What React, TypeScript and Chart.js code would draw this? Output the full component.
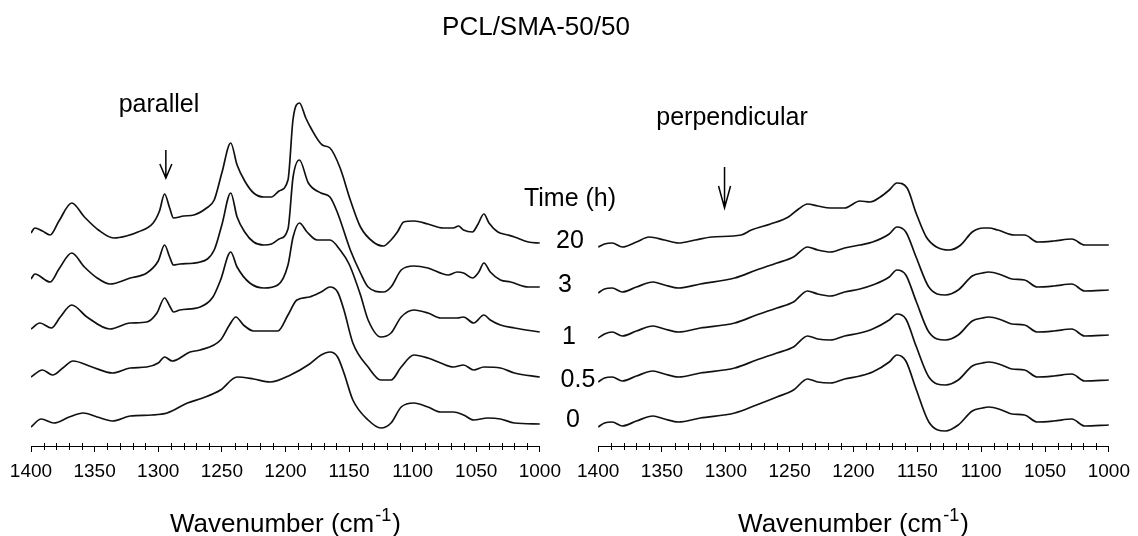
import React, { useEffect, useRef } from "react";
import { Chart, registerables } from "chart.js";

Chart.register(...registerables);

const FONT = '"Liberation Sans", Arial, Helvetica, sans-serif';
type Pt = [number, number]; // [wavenumber (cm-1), relative absorbance (a.u.)]

const xMin = 1000;
const xMax = 1400;
const minorStep = 10;
const majorStep = 50;

const timeLabels = ["20", "3", "1", "0.5", "0"];
const parallelOffsets = [203, 159, 114, 69, 22];
const perpOffsets = [201, 156, 111, 66, 21];

// ---- parallel polarisation ----
const par20: Pt[] = [
  [1400, 10], [1397, 15], [1391, 12], [1385, 8], [1378, 22], [1368, 40], [1358, 26], [1347, 13],
  [1335, 5], [1325, 7], [1316, 11], [1304, 20], [1299, 32], [1295, 49], [1291, 35], [1288, 25],
  [1280, 27], [1272, 28], [1262, 35], [1256, 43], [1250, 70], [1243, 100], [1238, 78], [1232, 62],
  [1225, 50], [1217, 46], [1211, 46], [1205, 52], [1198, 63], [1194, 124], [1189, 140], [1184, 125],
  [1180, 115], [1171, 98], [1165, 95], [1157, 75], [1149, 43], [1141, 16], [1131, 1], [1123, -3],
  [1117, 3], [1112, 11], [1107, 21], [1099, 22], [1088, 19], [1076, 15], [1068, 15], [1064, 17],
  [1060, 13], [1053, 11], [1049, 18], [1044, 29], [1040, 20], [1033, 11], [1025, 8], [1020, 6],
  [1009, 1], [1000, 0],
];
const par3: Pt[] = [
  [1400, 8], [1397, 13], [1385, 5], [1378, 18], [1368, 34], [1358, 20], [1348, 9], [1338, 3],
  [1322, 9], [1309, 14], [1300, 26], [1295, 42], [1291, 30], [1288, 22], [1283, 23], [1267, 25],
  [1256, 37], [1250, 62], [1243, 94], [1238, 70], [1232, 55], [1225, 45], [1217, 42], [1211, 43],
  [1205, 48], [1198, 58], [1194, 110], [1189, 127], [1182, 104], [1172, 94], [1165, 90], [1159, 74],
  [1149, 37], [1141, 14], [1135, 0], [1123, -5], [1117, 0], [1109, 17], [1099, 21], [1088, 19],
  [1072, 12], [1065, 15], [1060, 14], [1053, 9], [1048, 15], [1044, 24], [1039, 15], [1031, 7],
  [1023, 5], [1009, 0], [1000, 0],
];
const par1: Pt[] = [
  [1400, 3], [1393, 9], [1384, 4], [1377, 15], [1368, 27], [1356, 15], [1338, 3], [1322, 9],
  [1309, 10], [1301, 19], [1295, 34], [1291, 26], [1288, 20], [1283, 22], [1267, 25], [1257, 35],
  [1251, 52], [1243, 80], [1238, 65], [1228, 49], [1217, 44], [1206, 47], [1198, 67], [1194, 95],
  [1189, 109], [1183, 100], [1175, 92], [1165, 92], [1157, 82], [1150, 68], [1141, 37], [1135, 12],
  [1125, -5], [1117, -1], [1109, 15], [1099, 22], [1088, 19], [1078, 14], [1065, 14], [1060, 15],
  [1052, 9], [1044, 17], [1039, 12], [1031, 7], [1020, 4], [1000, 0],
];
const par05: Pt[] = [
  [1400, 0], [1391, 7], [1383, 2], [1375, 9], [1367, 16], [1352, 10], [1336, 4], [1322, 9],
  [1309, 10], [1300, 14], [1295, 20], [1289, 16], [1275, 25], [1267, 27], [1251, 37], [1244, 52],
  [1239, 60], [1233, 52], [1225, 46], [1206, 46], [1198, 62], [1191, 77], [1181, 80], [1172, 85],
  [1165, 90], [1159, 85], [1154, 67], [1147, 34], [1135, 10], [1125, -3], [1117, -3], [1109, 10],
  [1099, 22], [1088, 19], [1078, 14], [1068, 10], [1060, 12], [1052, 7], [1044, 10], [1031, 9],
  [1020, 4], [1000, 0],
];
const par0: Pt[] = [
  [1400, -3], [1392, 5], [1382, 1], [1370, 7], [1359, 11], [1348, 7], [1336, 3], [1322, 8],
  [1305, 9], [1293, 11], [1277, 21], [1265, 26], [1251, 34], [1238, 47], [1225, 45], [1212, 42],
  [1196, 49], [1181, 60], [1172, 69], [1165, 72], [1159, 67], [1154, 51], [1147, 24], [1135, 4],
  [1125, -4], [1117, 1], [1109, 17], [1099, 21], [1088, 17], [1078, 12], [1068, 12], [1060, 9],
  [1052, 4], [1041, 6], [1031, 5], [1020, 1], [1000, 0],
];

// ---- perpendicular polarisation ----
const perp20: Pt[] = [
  [1400, -2], [1395, 1], [1389, 2], [1381, -2], [1370, 3], [1360, 8], [1348, 5], [1337, 2],
  [1324, 5], [1311, 8], [1288, 10], [1280, 15], [1265, 21], [1251, 28], [1243, 36], [1236, 41],
  [1228, 39], [1218, 37], [1207, 37], [1195, 44], [1187, 43], [1179, 48], [1172, 55], [1166, 62],
  [1158, 57], [1151, 32], [1143, 8], [1135, -2], [1125, -5], [1116, 0], [1107, 13], [1098, 17],
  [1094, 17], [1087, 15], [1074, 10], [1066, 10], [1056, 3], [1043, 4], [1029, 6], [1019, 0],
  [1000, 0],
];
const perp3: Pt[] = [
  [1400, -3], [1395, 1], [1389, 2], [1381, -2], [1370, 3], [1357, 8], [1348, 5], [1337, 2],
  [1320, 6], [1293, 12], [1276, 20], [1260, 27], [1247, 33], [1236, 43], [1228, 40], [1218, 38],
  [1207, 42], [1195, 45], [1185, 48], [1172, 56], [1166, 63], [1159, 58], [1151, 33], [1141, 3],
  [1128, -5], [1118, 0], [1107, 14], [1099, 17], [1094, 18], [1084, 15], [1076, 11], [1066, 10],
  [1056, 3], [1043, 4], [1029, 6], [1019, -1], [1000, 0],
];
const perp1: Pt[] = [
  [1400, -3], [1395, 1], [1389, 3], [1381, -1], [1370, 4], [1357, 9], [1348, 6], [1337, 3],
  [1320, 7], [1293, 12], [1276, 20], [1260, 27], [1247, 33], [1236, 44], [1228, 41], [1218, 39],
  [1207, 43], [1195, 46], [1185, 50], [1172, 58], [1166, 65], [1159, 60], [1151, 34], [1141, 3],
  [1128, -5], [1118, 0], [1107, 14], [1099, 17], [1094, 18], [1084, 15], [1076, 11], [1066, 10],
  [1056, 3], [1043, 4], [1029, 6], [1019, -1], [1000, 0],
];
const perp05: Pt[] = [
  [1400, -2], [1395, 2], [1389, 3], [1381, -1], [1370, 4], [1357, 9], [1348, 6], [1337, 3],
  [1320, 7], [1293, 12], [1276, 20], [1260, 27], [1247, 33], [1236, 44], [1228, 41], [1218, 40],
  [1207, 44], [1195, 47], [1185, 51], [1172, 60], [1166, 66], [1159, 61], [1151, 34], [1141, 3],
  [1128, -5], [1118, 0], [1107, 14], [1099, 17], [1094, 18], [1084, 15], [1076, 11], [1066, 10],
  [1056, 3], [1043, 4], [1029, 6], [1019, -1], [1000, 0],
];
const perp0: Pt[] = [
  [1400, -2], [1395, 2], [1389, 3], [1381, -1], [1370, 4], [1357, 9], [1348, 6], [1337, 3],
  [1320, 7], [1293, 12], [1276, 20], [1260, 28], [1247, 35], [1236, 46], [1228, 43], [1218, 42],
  [1207, 46], [1195, 49], [1185, 53], [1172, 63], [1166, 70], [1159, 64], [1151, 36], [1141, 3],
  [1128, -6], [1118, 0], [1107, 14], [1099, 17], [1094, 18], [1084, 15], [1076, 11], [1066, 10],
  [1056, 3], [1043, 4], [1029, 6], [1019, -1], [1000, 0],
];

const parallelTraces = [par20, par3, par1, par05, par0];
const perpTraces = [perp20, perp3, perp1, perp05, perp0];

type Arrow = { w: number; top: number; headStart: number; bottom: number };
const parallelArrow: Arrow = { w: 1294, top: 296, headStart: 282, bottom: 268 };
const perpArrow: Arrow = { w: 1301, top: 279, headStart: 260, bottom: 238 };

const yMin = 0;
const yMax = 410;

const minorTicksPlugin = {
  id: "minorTicks",
  afterDraw(chart: any) {
    const xs = chart.scales.x;
    const ctx = chart.ctx;
    const y0 = Math.round(xs.top);
    ctx.save();
    ctx.strokeStyle = "#000";
    ctx.lineWidth = 1;
    ctx.beginPath();
    for (let v = xMin; v <= xMax; v += minorStep) {
      if (v % majorStep === 0) continue;
      const px = Math.round(xs.getPixelForValue(v)) + 0.5;
      ctx.moveTo(px, y0 - 3);
      ctx.lineTo(px, y0 + 4);
    }
    ctx.stroke();
    ctx.restore();
  },
};

const axisTitlePlugin = {
  id: "axisTitle",
  afterDraw(chart: any) {
    const { ctx, chartArea } = chart;
    const xs = chart.scales.x;
    const main = "Wavenumber (cm";
    const sup = "-1";
    const close = ")";
    const mainFont = `26px ${FONT}`;
    const supFont = `18px ${FONT}`;
    ctx.save();
    ctx.fillStyle = "#000";
    ctx.textBaseline = "alphabetic";
    ctx.textAlign = "left";
    ctx.font = mainFont;
    const w1 = ctx.measureText(main).width;
    const w3 = ctx.measureText(close).width;
    ctx.font = supFont;
    const w2 = ctx.measureText(sup).width;
    const total = w1 + w2 + w3 + 2;
    const x = (chartArea.left + chartArea.right) / 2 - total / 2;
    const base = xs.bottom - 4;
    ctx.font = mainFont;
    ctx.fillText(main, x, base);
    ctx.font = supFont;
    ctx.fillText(sup, x + w1 + 1, base - 11);
    ctx.font = mainFont;
    ctx.fillText(close, x + w1 + w2 + 2, base);
    ctx.restore();
  },
};

function arrowPlugin(a: Arrow) {
  return {
    id: "arrowMark",
    afterDatasetsDraw(chart: any) {
      const { ctx } = chart;
      const xs = chart.scales.x;
      const ys = chart.scales.y;
      const px = xs.getPixelForValue(a.w);
      const yt = ys.getPixelForValue(a.top);
      const yb = ys.getPixelForValue(a.bottom);
      const yh = ys.getPixelForValue(a.headStart);
      ctx.save();
      ctx.strokeStyle = "#000";
      ctx.lineWidth = 1.5;
      ctx.beginPath();
      ctx.moveTo(px, yt);
      ctx.lineTo(px, yb);
      ctx.moveTo(px - 6, yh);
      ctx.lineTo(px, yb);
      ctx.lineTo(px + 6, yh);
      ctx.stroke();
      ctx.restore();
    },
  };
}

function buildConfig(traces: Pt[][], offsets: number[], arrow: Arrow, padL: number, padR: number): any {
  return {
    type: "line",
    data: {
      datasets: traces.map((t, i) => ({
        label: timeLabels[i] + " h",
        data: t.map(([w, a]) => ({ x: w, y: a + offsets[i] })),
        borderColor: "#111",
        borderWidth: 1.7,
        pointRadius: 0,
        fill: false,
        cubicInterpolationMode: "monotone",
      })),
    },
    options: {
      responsive: false,
      animation: false,
      events: [],
      layout: { padding: { top: 36, left: padL, right: padR, bottom: 0 } },
      plugins: {
        legend: { display: false },
        tooltip: { enabled: false },
        title: { display: false },
      },
      scales: {
        x: {
          type: "linear",
          reverse: true,
          min: xMin,
          max: xMax,
          afterFit: (s: any) => {
            s.height = 90;
          },
          ticks: {
            stepSize: minorStep,
            autoSkip: false,
            maxRotation: 0,
            minRotation: 0,
            padding: 8,
            color: "#000",
            font: { family: FONT, size: 19 },
            callback: (v: any) => (Number(v) % majorStep === 0 ? String(v) : ""),
          },
          grid: {
            drawOnChartArea: false,
            drawTicks: true,
            tickLength: 6,
            lineWidth: 1,
            color: (c: any) =>
              c.tick && Number(c.tick.value) % majorStep === 0 ? "#000" : "rgba(0,0,0,0)",
          },
          border: { display: true, color: "#000", width: 1 },
        },
        y: { type: "linear", display: false, min: yMin, max: yMax },
      },
    },
    plugins: [minorTicksPlugin, axisTitlePlugin, arrowPlugin(arrow)],
  };
}

function Panel(props: { traces: Pt[][]; offsets: number[]; arrow: Arrow; left: number; padL: number; padR: number }) {
  const ref = useRef<HTMLCanvasElement | null>(null);
  useEffect(() => {
    if (!ref.current) return;
    const chart = new Chart(ref.current, buildConfig(props.traces, props.offsets, props.arrow, props.padL, props.padR));
    return () => chart.destroy();
  }, []);
  return (
    <canvas
      ref={ref}
      width={569}
      height={536}
      style={{ position: "absolute", left: props.left, top: 0, width: 569, height: 536 }}
    />
  );
}

function Txt(props: { text: string; x: number; base: number; size: number }) {
  const top = props.base - 0.8465 * props.size;
  return (
    <div
      style={{
        position: "absolute",
        left: props.x,
        top,
        transform: "translateX(-50%)",
        fontFamily: FONT,
        fontSize: props.size,
        lineHeight: `${props.size}px`,
        whiteSpace: "nowrap",
        color: "#000",
      }}
    >
      {props.text}
    </div>
  );
}

const timeLabelPos = [
  { x: 570, base: 248 },
  { x: 565, base: 292 },
  { x: 569, base: 344 },
  { x: 578, base: 387 },
  { x: 573, base: 427 },
];

export default function App() {
  return (
    <div style={{ position: "absolute", left: 0, top: 0, width: 1138, height: 536, background: "#fff", overflow: "hidden" }}>
      <Panel traces={parallelTraces} offsets={parallelOffsets} arrow={parallelArrow} left={0} padL={31} padR={28} />
      <Panel traces={perpTraces} offsets={perpOffsets} arrow={perpArrow} left={569} padL={29} padR={23} />
      <Txt text="PCL/SMA-50/50" x={536} base={35} size={26} />
      <Txt text="parallel" x={159} base={112} size={25} />
      <Txt text="perpendicular" x={732} base={125} size={25} />
      <Txt text="Time (h)" x={570} base={206} size={25} />
      {timeLabels.map((t, i) => (
        <Txt key={t} text={t} x={timeLabelPos[i].x} base={timeLabelPos[i].base} size={25} />
      ))}
    </div>
  );
}
